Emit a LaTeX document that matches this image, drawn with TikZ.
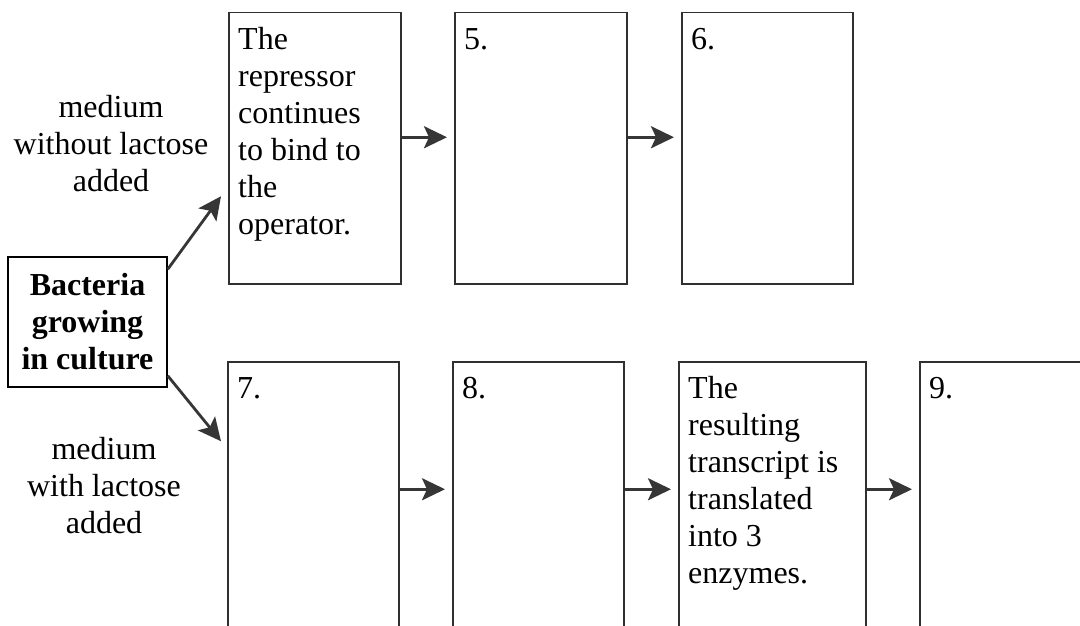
\documentclass[tikz,border=0pt]{standalone}
\usepackage{fontspec}
\setmainfont{Liberation Serif}
\usetikzlibrary{arrows.meta,positioning}
\definecolor{ink}{HTML}{000000}
\definecolor{boxline}{HTML}{303030}
\definecolor{arrowgr}{HTML}{363636}
\newcommand{\bigtx}{\fontsize{32}{37}\selectfont}
\newcommand{\stagebox}[4]{%
  \node[draw=boxline,line width=1.5pt,fill=white,anchor=north west,
        minimum width=#3pt,minimum height=271pt,inner sep=0pt]
       (#1) at #2 {};
  \node[anchor=north west,inner sep=0pt,align=left,text=ink,font=\bigtx]
       (#1txt) at ([xshift=10pt,yshift=-11pt]#1.north west) {\strut #4};}

\begin{document}
\begin{tikzpicture}[x=1pt,y=-1pt]
  \useasboundingbox (0,0) rectangle (1080,626);
  \clip (0,0) rectangle (1080,626);

  % Starting culture and the two media
  \node[draw=ink,line width=1.5pt,minimum width=159pt,minimum height=130pt,
        inner sep=0pt,align=center,font=\bigtx\bfseries,text=ink]
       (bact) at (87.5,322) {Bacteria\\growing\\in culture};
  \node[align=center,font=\bigtx,text=ink] (nolac) at (111,144)
       {medium\\without lactose\\added};
  \node[align=center,font=\bigtx,text=ink] (withlac) at (104,486)
       {medium\\with lactose\\added};

  % Without lactose
  \stagebox{repress}{(228,12)}{172}{The\\repressor\\continues\\to bind to\\the\\operator.}
  \stagebox{stepfive}{(454,12)}{172}{5.}
  \stagebox{stepsix}{(681,12)}{171}{6.}
  % With lactose
  \stagebox{stepseven}{(227,361)}{171}{7.}
  \stagebox{stepeight}{(452,361)}{171}{8.}
  \stagebox{transl}{(678,361)}{187}{The\\resulting\\transcript is\\translated\\into 3\\enzymes.}
  \stagebox{stepnine}{(919,361)}{171}{9.}

  \begin{scope}[-{Stealth[length=23pt,width=22pt,inset=5pt]},arrowgr,line width=2.8pt]
    \draw ([yshift=-13pt]bact.north east) -- ([xshift=-7pt,yshift=-48pt]repress.west);
    \draw ([yshift=12pt]bact.south east) -- ([xshift=-6pt,yshift=56pt]stepseven.west);
    \draw[shorten >=7pt] ([yshift=11pt]repress.east) -- ([yshift=11pt]stepfive.west);
    \draw[shorten >=7pt] ([yshift=11pt]stepfive.east) -- ([yshift=11pt]stepsix.west);
    \draw[shorten >=7pt] ([yshift=8pt]stepseven.east) -- ([yshift=8pt]stepeight.west);
    \draw[shorten >=7pt] ([yshift=8pt]stepeight.east) -- ([yshift=8pt]transl.west);
    \draw[shorten >=7pt] ([yshift=8pt]transl.east) -- ([yshift=8pt]stepnine.west);
  \end{scope}
\end{tikzpicture}
\end{document}
